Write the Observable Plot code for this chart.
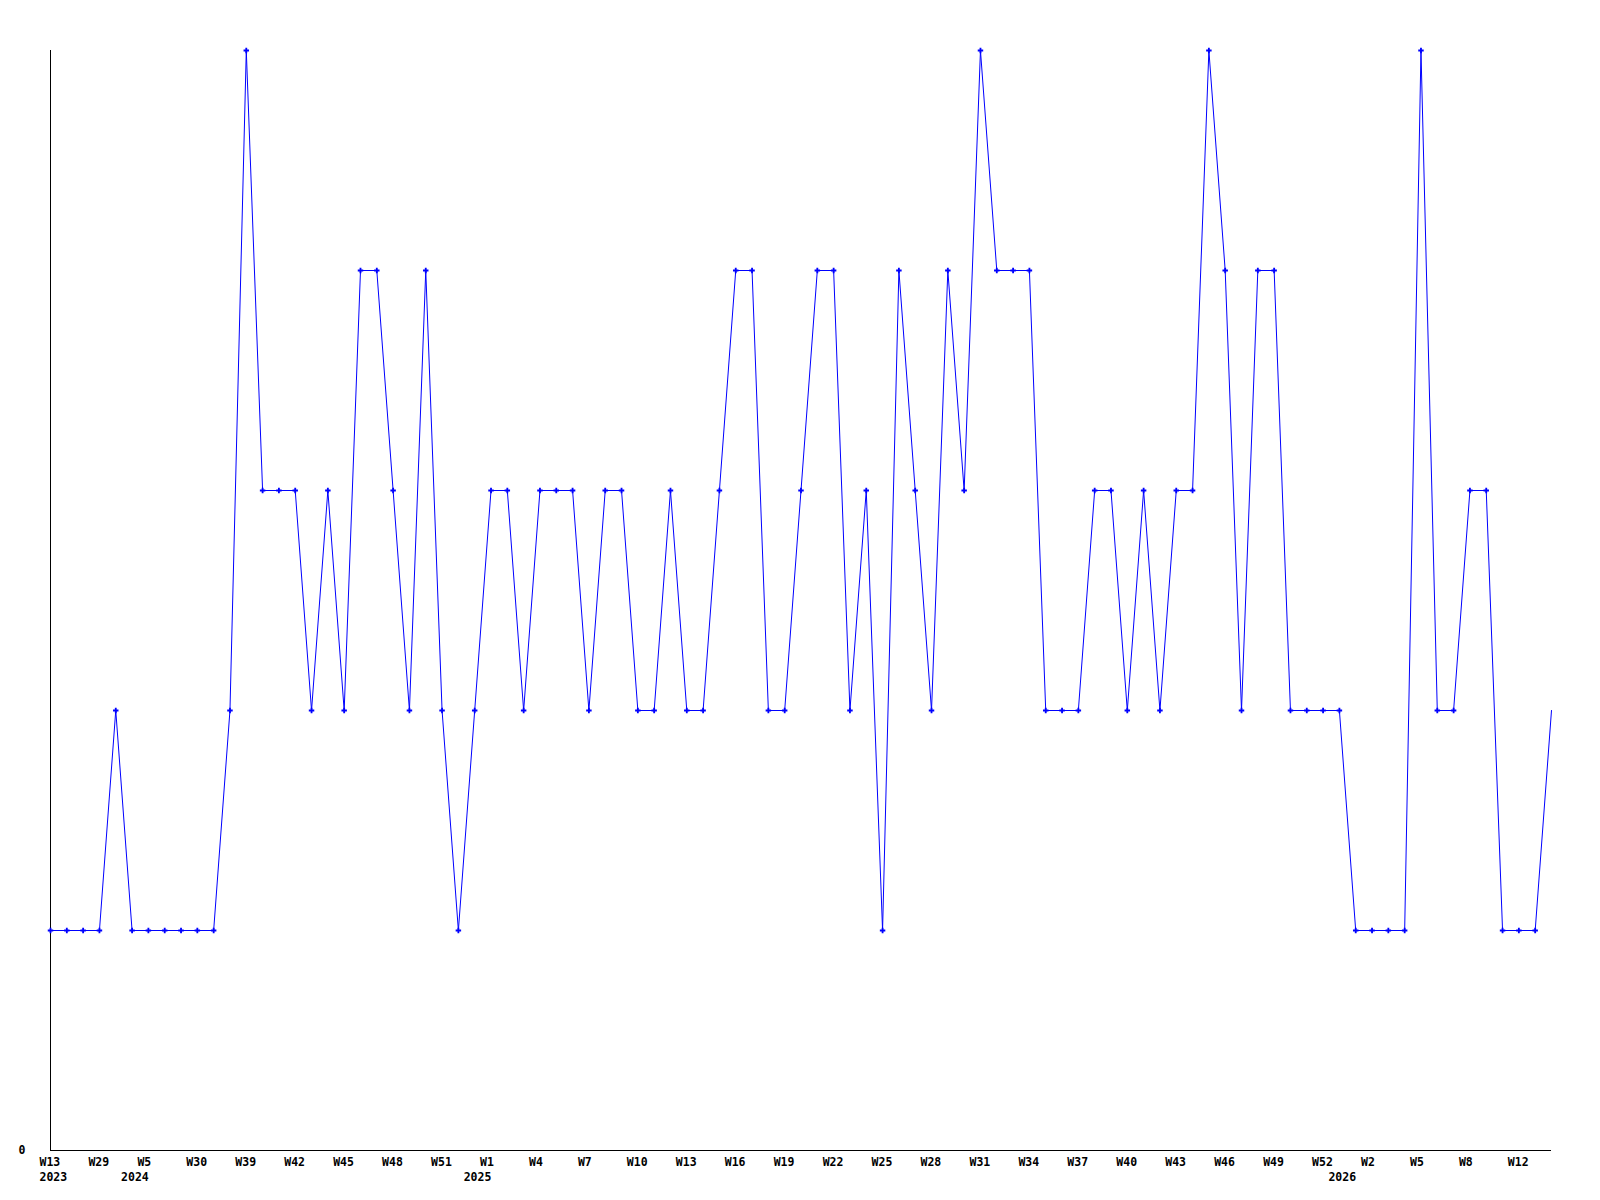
<!DOCTYPE html>
<html>
<head>
<meta charset="utf-8">
<script src="https://cdn.jsdelivr.net/npm/d3@7"></script>
<script src="https://cdn.jsdelivr.net/npm/@observablehq/plot@0.6"></script>
<style>
  html, body { margin: 0; padding: 0; background: #ffffff; }
  #chart { width: 1600px; height: 1200px; }
</style>
</head>
<body>
<div id="chart"></div>
<script>
// Weekly values (one per week with data)
const values = [
  1,1,1,1,2,1,1,1,1,1,
  1,2,5,3,3,3,2,3,2,4,
  4,3,2,4,2,1,2,3,3,2,
  3,3,3,2,3,3,2,2,3,2,
  2,3,4,4,2,2,3,4,4,2,
  3,1,4,3,2,4,3,5,4,4,
  4,2,2,2,3,3,2,3,2,3,
  3,5,4,2,4,4,2,2,2,2,
  1,1,1,1,5,2,2,3,3,1,
  1,1,2
];

// Week tick labels (every third week with data is labelled)
const weekLabels = [
  "W13","W29","W5","W30","W39","W42","W45","W48","W51","W1",
  "W4","W7","W10","W13","W16","W19","W22","W25","W28","W31",
  "W34","W37","W40","W43","W46","W49","W52","W2","W5","W8","W12"
];

// Year labels and the index of the first week of each year
const years = ["2023", "2024", "2025", "2026"];
const yearStart = [0, 5, 26, 79];

const labelEvery = 3;
const tickIdx = weekLabels.map((_, i) => i * labelEvery);
const lastIdx = values.length - 1;

const chart = Plot.plot({
  width: 1600,
  height: 1200,
  marginLeft: 50,
  marginRight: 49,
  marginTop: 50,
  marginBottom: 50,
  style: {
    fontFamily: "'DejaVu Sans Mono', monospace",
    fontSize: "11.5px",
    fontWeight: "bold",
    background: "#ffffff",
    color: "#000000"
  },
  x: { domain: [0, lastIdx], axis: null },
  y: { domain: [0, 5], axis: null },
  marks: [
    Plot.ruleX([0], { y1: 0, y2: 5, stroke: "#000000", strokeWidth: 1 }),
    Plot.ruleY([0], { x1: 0, x2: lastIdx, stroke: "#000000", strokeWidth: 1 }),
    Plot.axisY({ ticks: [0], tickSize: 0, tickPadding: 25, tickFormat: d => String(d) }),
    Plot.axisX({
      ticks: tickIdx,
      tickSize: 0,
      tickPadding: 7.5,
      tickFormat: d => weekLabels[Math.round(d / labelEvery)],
      textAnchor: "start",
      dx: -11
    }),
    Plot.line(values, { x: (d, i) => i, y: d => d, stroke: "#0000ff", strokeWidth: 1 }),
    Plot.dot(values.slice(0, -1), { x: (d, i) => i, y: d => d, symbol: "cross", r: 2.3, fill: "#0000ff", stroke: "none" }),
    Plot.text(years, {
      x: (d, i) => yearStart[i],
      y: () => 0,
      text: d => d,
      textAnchor: "start",
      lineAnchor: "bottom",
      dx: -11,
      dy: 30.5,
      fill: "#000000"
    })
  ]
});

document.getElementById("chart").appendChild(chart);
</script>
</body>
</html>
